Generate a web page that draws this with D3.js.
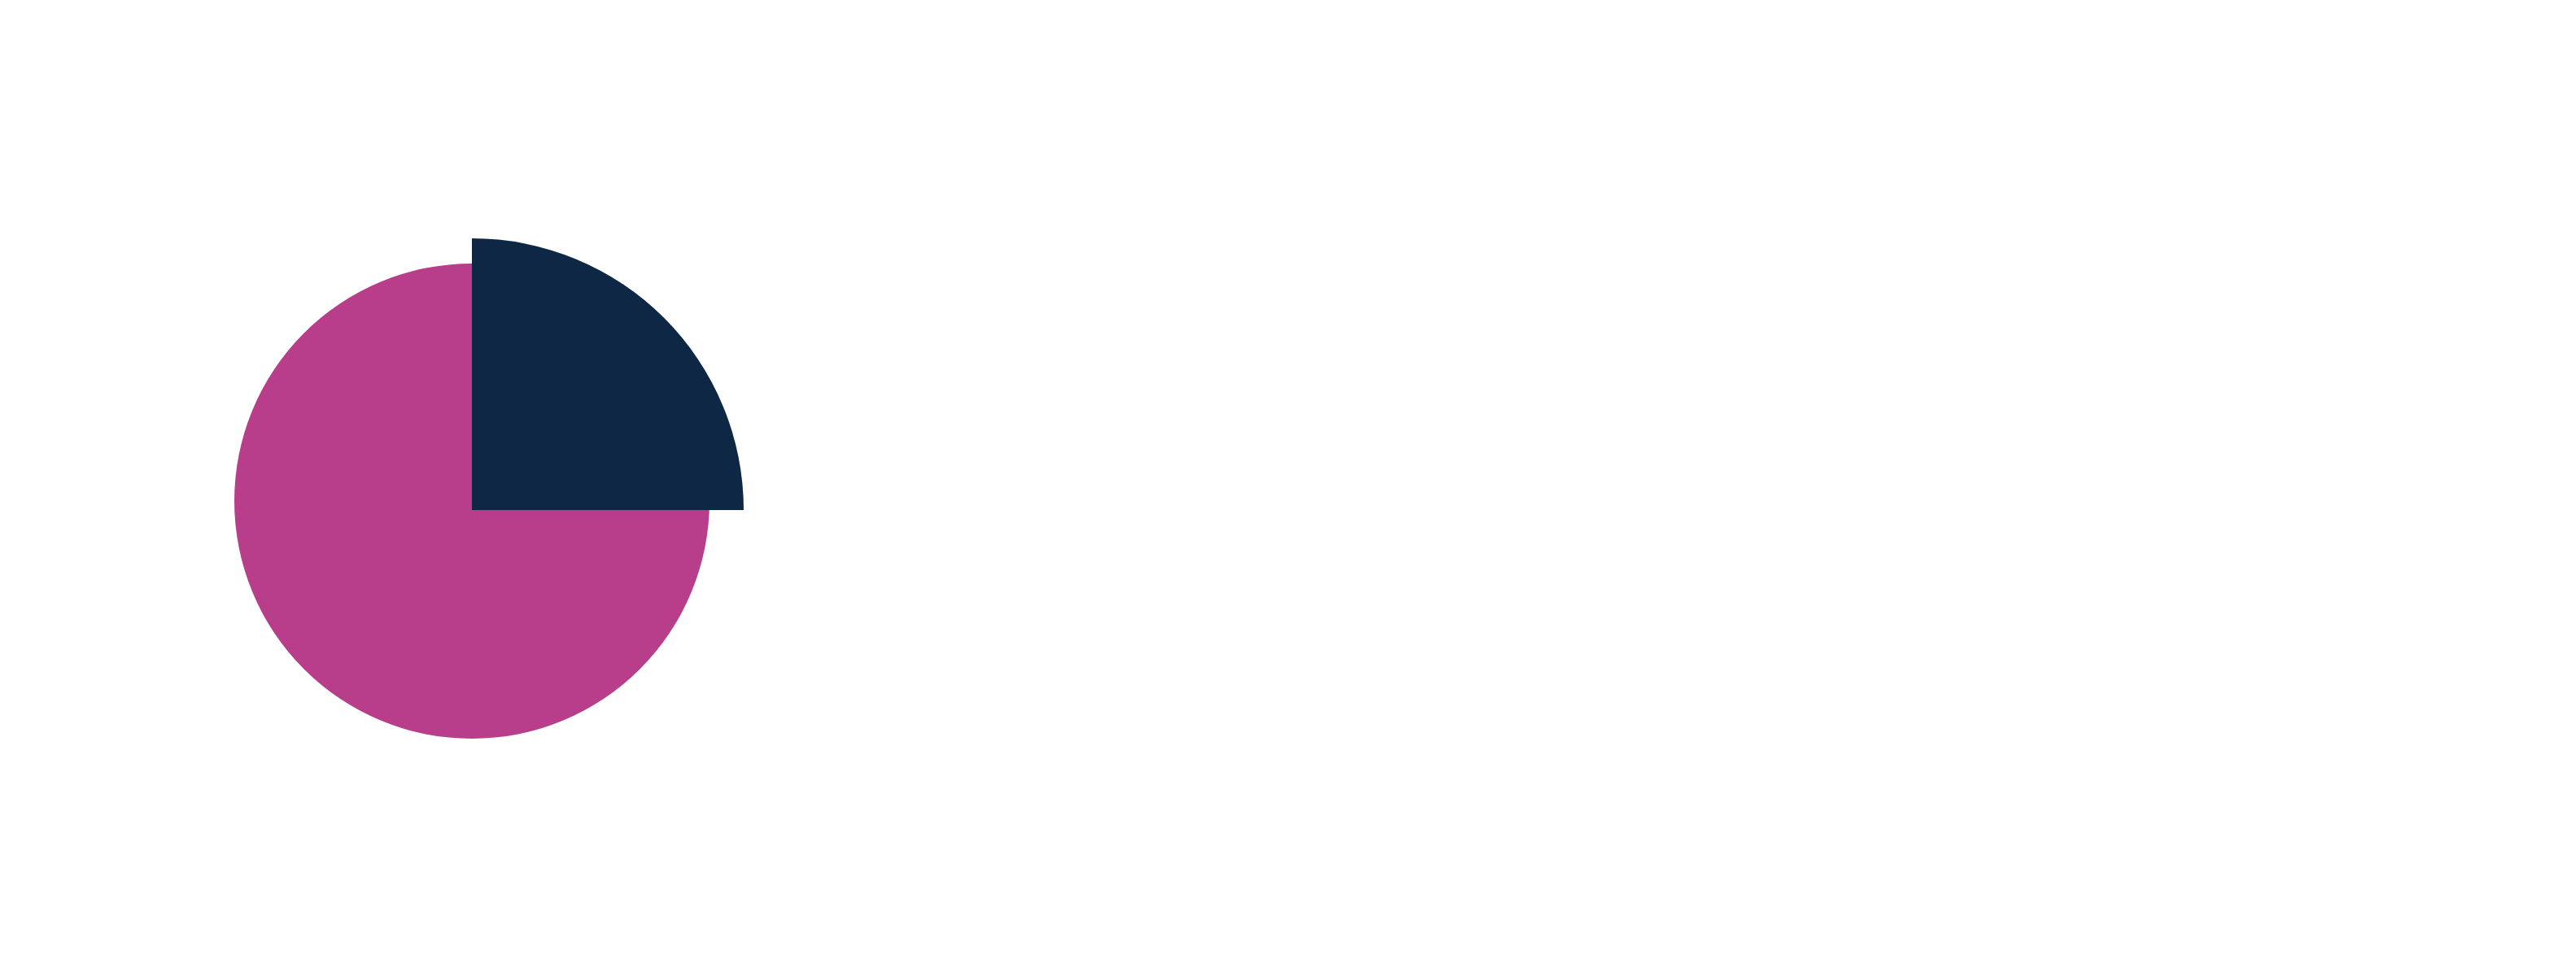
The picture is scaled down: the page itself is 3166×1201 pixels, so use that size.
<!DOCTYPE html>
<html lang="en">
<head>
    <meta charset="UTF-8">
    <title>Pie</title>
    <script src="https://d3js.org/d3.v7.min.js"></script>
    <style>
        html, body { margin: 0; padding: 0; background: white; overflow: hidden; }
        svg { display: block; }
    </style>
</head>
<body>
    <svg id="chart" width="3166" height="1201"></svg>

    <script>
        // slice data
        const categories = ["A", "B"];
        const values = [25, 75];
        const colors = ["#0E2745", "#B83E8C"];

        const svg = d3.select("#chart");

        const pie = d3.pie().sort(null).value(d => d.value);
        const slices = pie(categories.map((c, i) => ({ name: c, value: values[i] })));

        // the highlighted slice sticks out beyond the rest
        const baseR = 292;
        const bigR = 334;

        const arcBase = d3.arc().innerRadius(0).outerRadius(baseR);
        const arcBig = d3.arc().innerRadius(0).outerRadius(bigR);

        // draw rest first, highlighted slice on top
        const order = slices.slice().reverse();

        svg.selectAll('path.slice')
            .data(order)
            .enter()
            .append('path')
            .classed('slice', true)
            .attr('transform', d => d.index === 0 ? 'translate(580,627)' : 'translate(580,616)')
            .attr('d', d => d.index === 0 ? arcBig(d) : arcBase(d))
            .attr('fill', d => colors[d.index]);
    </script>
</body>
</html>
